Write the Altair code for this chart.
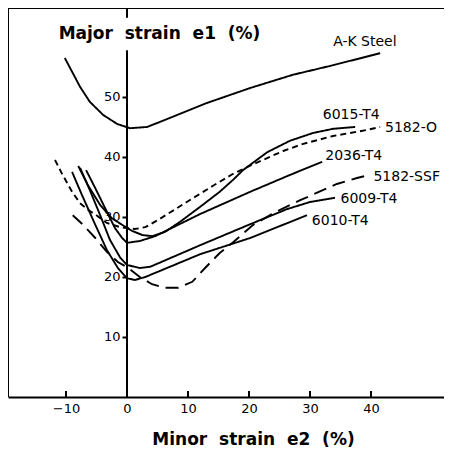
import altair as alt
import pandas as pd

# ---- curve data: minor strain e2 (%) -> major strain e1 (%) ----
ak_x = [-10.2, -9.0, -7.7, -6.1, -3.9, -1.6, 0.5, 3.3, 7.5, 13.1, 20.2, 27.2, 33.8, 41.5]
ak_y = [56.5, 54.2, 51.7, 49.2, 47.0, 45.5, 44.8, 45.0, 46.7, 49.0, 51.5, 53.7, 55.3, 57.3]

t6015_x = [-8.0, -6.4, -4.4, -2.5, -0.8, 0.8, 2.5, 4.1, 6.2, 8.7, 12.0, 15.2, 17.4, 19.0, 23.0, 26.7, 30.5, 33.8, 37.4]
t6015_y = [38.5, 35.3, 32.0, 29.8, 28.7, 27.7, 27.0, 26.8, 27.5, 29.2, 31.7, 34.2, 36.2, 37.8, 40.8, 42.7, 44.0, 44.7, 45.0]

o5182_x = [-11.8, -10.7, -9.0, -7.7, -6.4, -4.9, -3.3, -1.1, 1.3, 3.0, 5.4, 9.8, 14.1, 17.4, 20.7, 25.6, 28.9, 33.8, 39.3, 41.5]
o5182_y = [39.5, 37.3, 34.2, 32.3, 31.2, 30.2, 29.0, 28.3, 28.0, 28.3, 29.7, 32.5, 35.2, 37.2, 38.8, 41.0, 42.2, 43.5, 44.5, 45.0]

t2036_x = [-6.7, -5.2, -3.6, -2.0, -0.8, 0.0, 2.1, 4.6, 12.0, 20.2, 26.7, 32.0]
t2036_y = [37.8, 34.8, 31.5, 28.2, 26.5, 25.7, 26.0, 26.8, 30.5, 34.2, 37.0, 39.2]

ssf5182_x = [-8.9, -7.2, -5.2, -3.3, -1.5, 0.2, 2.1, 4.1, 6.2, 8.4, 10.7, 12.8, 15.2, 17.4, 20.7, 24.3, 28.4, 34.4, 37.7, 39.7]
ssf5182_y = [30.3, 28.7, 26.5, 24.2, 22.5, 21.5, 20.0, 18.8, 18.2, 18.2, 19.2, 21.5, 24.0, 25.8, 28.7, 30.8, 32.8, 35.5, 36.5, 37.0]

t6009_x = [-7.7, -6.1, -4.4, -2.8, -1.1, 0.0, 2.1, 3.8, 12.0, 20.2, 26.2, 30.0, 34.1]
t6009_y = [38.2, 34.5, 30.3, 26.2, 23.2, 22.0, 21.5, 21.7, 25.3, 28.8, 31.3, 32.5, 33.2]

t6010_x = [-9.0, -7.4, -5.2, -3.3, -1.5, 0.0, 1.3, 3.0, 12.0, 20.2, 25.1, 29.5]
t6010_y = [37.5, 33.7, 28.7, 24.5, 21.5, 19.8, 19.5, 20.0, 23.8, 26.5, 28.5, 30.3]

series_names = ["A-K Steel", "6015-T4", "5182-O", "2036-T4", "5182-SSF", "6009-T4", "6010-T4"]
series_styles = ["solid", "solid", "short", "solid", "long", "solid", "solid"]
series_x = [ak_x, t6015_x, o5182_x, t2036_x, ssf5182_x, t6009_x, t6010_x]
series_y = [ak_y, t6015_y, o5182_y, t2036_y, ssf5182_y, t6009_y, t6010_y]

# curve label anchors (left edge, middle)
label_text = ["A-K Steel", "6015-T4", "5182-O", "2036-T4", "5182-SSF", "6009-T4", "6010-T4"]
label_x = [33.8, 32.1, 42.3, 32.5, 40.4, 35.0, 30.3]
label_y = [59.2, 47.0, 44.8, 40.1, 36.7, 33.0, 29.4]

x_ticks = [-10, 0, 10, 20, 30, 40]
y_ticks = [10, 20, 30, 40, 50]

# ---- tables ----
rows = []
for name, style, xs, ys in zip(series_names, series_styles, series_x, series_y):
    for i, (xv, yv) in enumerate(zip(xs, ys)):
        rows.append({"series": name, "style": style, "x": xv, "y": yv, "i": i})
curves = pd.DataFrame(rows)
labels = pd.DataFrame({"text": label_text, "x": label_x, "y": label_y})
xtick_df = pd.DataFrame({"x": x_ticks, "y": [0] * len(x_ticks), "y2": [1] * len(x_ticks)})
yaxis_df = pd.DataFrame({"x": [0, 0], "y": [0, 63.2], "y2": [57.8, 64.83]})

W, H = 436, 389
xscale = alt.Scale(domain=[-19.51, 51.97], nice=False, zero=False)
yscale = alt.Scale(domain=[0, 64.83], nice=False, zero=False)
FONT = "DejaVu Sans"

xaxis = alt.Axis(
    values=x_ticks, format="d", grid=False, tickSize=0, ticks=False, labelPadding=5,
    labelFont=FONT, labelFontSize=13, labelColor="black",
    domainColor="black", domainWidth=2,
    title="Minor\u00a0 strain\u00a0 e2\u00a0 (%)", titleFont=FONT, titleFontSize=17,
    titleFontWeight="bold", titleColor="black", titleX=245, titleY=42,
    titleAlign="center", titleBaseline="middle")
yaxis = alt.Axis(
    values=y_ticks, format="d", grid=False, offset=-119, domain=False,
    tickSize=5, tickWidth=2, tickColor="black", labelPadding=2,
    labelFont=FONT, labelFontSize=13, labelColor="black",
    title="Major\u00a0 strain\u00a0 e1\u00a0 (%)", titleFont=FONT, titleFontSize=17,
    titleFontWeight="bold", titleColor="black", titleAngle=0,
    titleX=32, titleY=25, titleAlign="center", titleBaseline="middle")

def X():
    return alt.X("x:Q", scale=xscale, axis=xaxis)

def Y():
    return alt.Y("y:Q", scale=yscale, axis=yaxis)

lines = alt.Chart(curves).mark_line(color="black", strokeWidth=1.9).encode(
    x=X(), y=Y(),
    detail="series:N",
    order="i:Q",
    strokeDash=alt.StrokeDash("style:N", scale=alt.Scale(
        domain=["solid", "short", "long"], range=[[1, 0], [6, 4], [13, 7]]), legend=None),
)

yaxis_line = alt.Chart(yaxis_df).mark_rule(color="black", strokeWidth=2).encode(
    x=X(), y=Y(), y2="y2:Q")

xtick_marks = alt.Chart(xtick_df).mark_rule(color="black", strokeWidth=2).encode(
    x=X(), y=Y(), y2="y2:Q")

text = alt.Chart(labels).mark_text(align="left", baseline="middle", font=FONT,
                                   fontSize=14, color="black").encode(
    x=X(), y=Y(), text="text:N")

left_border = alt.Chart(labels).mark_rule(color="black", strokeWidth=2).encode(
    x=alt.value(0), y=alt.value(0), y2=alt.value(H))
top_border = alt.Chart(labels).mark_rule(color="black", strokeWidth=2).encode(
    x=alt.value(0), x2=alt.value(W), y=alt.value(0))

chart = alt.layer(lines, yaxis_line, xtick_marks, text, left_border, top_border).properties(
    width=W, height=H,
    background="white",
    autosize=alt.AutoSizeParams(type="none"),
    padding={"left": 0, "top": 0, "right": 0, "bottom": 50},
).configure_view(stroke=None)

chart.save("out.html", embed_options={"renderer": "svg", "actions": False})
